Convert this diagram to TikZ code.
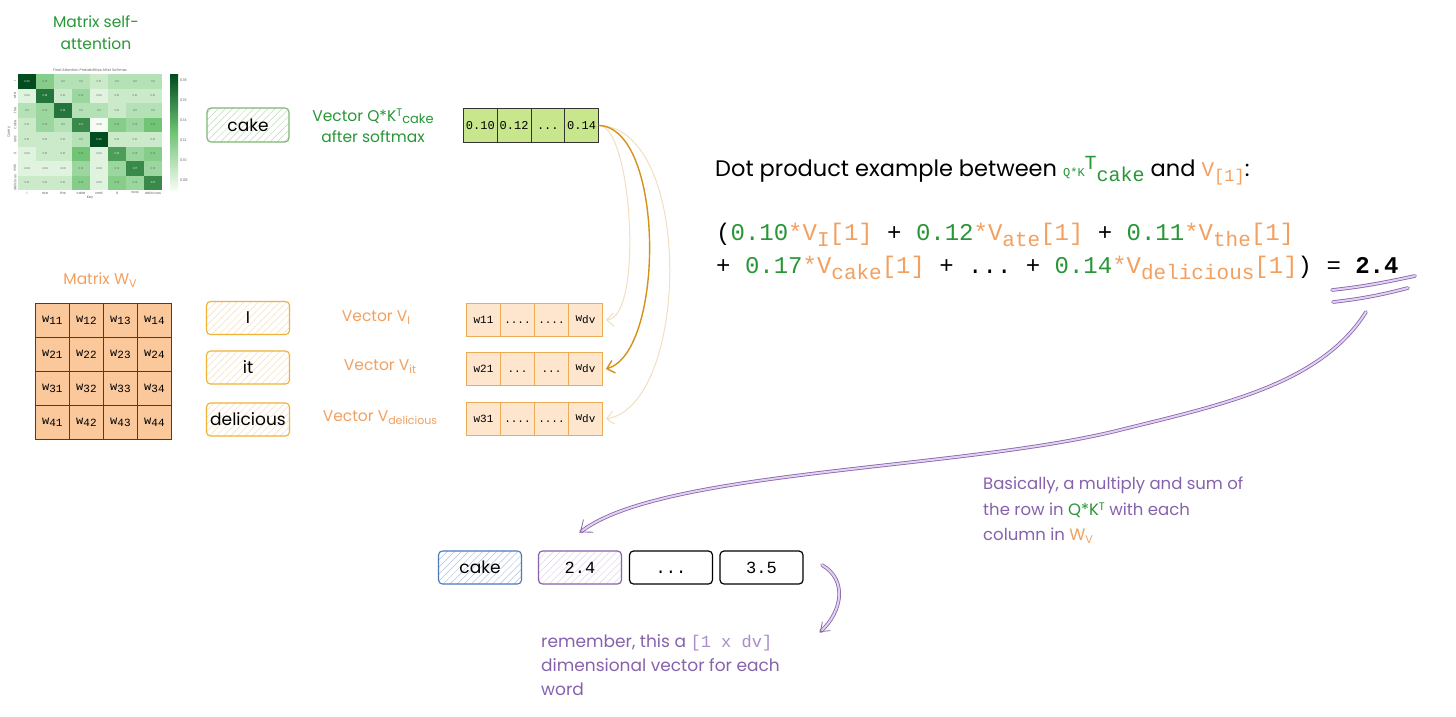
\documentclass[tikz,border=0pt]{standalone}
\usepackage{fontspec}
\setmainfont{Poppins}
\setmonofont{Liberation Mono}
\usetikzlibrary{arrows.meta,patterns.meta}
\definecolor{gtxt}{RGB}{40,150,55}
\definecolor{otxt}{RGB}{243,160,95}
\definecolor{ptxt}{RGB}{135,98,172}
\definecolor{plight}{RGB}{170,140,200}
\definecolor{pfill}{RGB}{225,210,240}
\definecolor{mfill}{RGB}{250,200,155}
\definecolor{vfill}{RGB}{253,230,205}
\definecolor{vstroke}{RGB}{236,172,85}
\definecolor{ostroke}{RGB}{238,178,55}
\definecolor{ohatch}{RGB}{248,222,185}
\definecolor{gfill}{RGB}{200,230,140}
\definecolor{gstroke}{RGB}{125,182,115}
\definecolor{ghatch}{RGB}{190,220,180}
\definecolor{bstroke}{RGB}{75,120,190}
\definecolor{bhatch}{RGB}{175,195,225}
\definecolor{arrdark}{RGB}{214,145,25}
\definecolor{arrlight}{RGB}{243,222,192}
\definecolor{hmdark}{RGB}{0,75,30}
\definecolor{hmmid}{RGB}{110,195,115}
\definecolor{hmlight}{RGB}{245,252,243}
\newcommand\sz[2]{\fontsize{#1}{#2}\selectfont}
\newcommand\lo[3]{\raisebox{-#1}{\fontsize{#2}{#2}\selectfont #3}}
\newcommand\hi[3]{\raisebox{#1}{\fontsize{#2}{#2}\selectfont #3}}
\newcommand\term[3]{{\color{gtxt}#1}{\color{otxt}*V\lo{6pt}{21}{#2}[1]}}
\newcommand\dthree{\vphantom{0}...}
\newcommand\dfour{\vphantom{0}....}
\begin{document}
\begin{tikzpicture}[x=1pt,y=-1pt,
  every node/.style={inner sep=0pt},
  mcell/.style={draw=black!75, fill=mfill, line width=0.8pt, minimum width=34pt, minimum height=34pt, anchor=north west, font=\ttfamily\sz{12}{12}},
  vcell/.style={draw=vstroke, fill=vfill, line width=0.9pt, minimum width=34pt, minimum height=33pt, anchor=north west, font=\ttfamily\sz{11}{11}},
  gcell/.style={draw=black!80, fill=gfill, line width=0.9pt, minimum width=33.75pt, minimum height=34pt, anchor=north west, font=\ttfamily\sz{12}{12}},
  hatchbox/.style={line width=1.1pt, rounded corners=4pt, minimum width=83pt, minimum height=33pt, font=\sz{17}{17}},
  wbox/.style={hatchbox, draw=ostroke, pattern={Lines[angle=45,distance=5pt,line width=0.5pt]}, pattern color=ohatch},
  plainbox/.style={hatchbox, draw=black, line width=1.2pt, font=\ttfamily\sz{17}{17}},
  olbl/.style={text=otxt, font=\sz{15.5}{15.5}},
  oarr/.style={-{Straight Barb[length=7pt,width=13pt]}, line width=1pt},
  parr/.style={draw=ptxt, line width=0.8pt, double=pfill, double distance=2pt, line cap=round},
  hmtxt/.style={font=\sz{2.6}{3}},
  hmlbl/.style={font=\sz{3.6}{4}, text=black!60}]
\useasboundingbox (0,0) rectangle (1456,716);
\fill[white] (0,0) rectangle (1456,716);

% ---------- heatmap ----------
\node[text=gtxt, font=\sz{15.5}{22}, align=center] (mattitle) at (96,33) {Matrix self-\\attention};
\node[hmlbl] (hmtitle) at (90,70) {Final Attention Probabilities After Softmax};
\foreach \vals [count=\r from 0] in {
  {0.20,0.13,0.11,0.11,0.10,0.11,0.11,0.11},
  {0.09,0.18,0.10,0.12,0.09,0.10,0.10,0.10},
  {0.11,0.12,0.18,0.11,0.11,0.10,0.11,0.11},
  {0.10,0.12,0.11,0.17,0.08,0.13,0.12,0.14},
  {0.10,0.10,0.10,0.11,0.20,0.10,0.10,0.10},
  {0.09,0.10,0.10,0.14,0.09,0.16,0.12,0.13},
  {0.09,0.09,0.09,0.12,0.09,0.12,0.17,0.12},
  {0.10,0.10,0.10,0.13,0.09,0.13,0.12,0.17}} {
  \foreach \v [count=\c from 0] in \vals {
    \pgfmathtruncatemacro\t{max(0,min(100,(\v-0.08)*100/0.12))}
    \ifnum\t<50
      \pgfmathtruncatemacro\u{2*\t}\def\hc{hmmid!\u!hmlight}
    \else
      \pgfmathtruncatemacro\u{2*\t-100}\def\hc{hmdark!\u!hmmid}
    \fi
    \ifnum\t>55 \def\tc{white}\else\def\tc{black!65}\fi
    \node[hmtxt, fill=\hc, minimum width=18pt, minimum height=14.5pt, text=\tc] (hm\r-\c) at (27+\c*18, 81.25+\r*14.5) {\v};
  }
}
\foreach \w [count=\i from 0] in {I,ate,the,cake,and,it,was,delicious} {
  \node[hmlbl, rotate=90] (hmr\i) at (15,81.25+\i*14.5) {\w};
  \node[hmlbl] (hmc\i) at (27+\i*18,193) {\w};
}
\node[hmlbl, rotate=90] (hmq) at (9,132) {Query};
\node[hmlbl] (hmk) at (90,198) {Key};
\shade[top color=hmdark, bottom color=hmlight, middle color=hmmid] (170,74) rectangle (178,190);
\foreach \lab [count=\i from 0] in {0.18,0.16,0.14,0.12,0.10,0.08} {
  \node[hmlbl, anchor=west] (cb\i) at (180,80+\i*20) {\lab};
}

% ---------- cake + Q*K^T vector ----------
\node[hatchbox, draw=gstroke, pattern={Lines[angle=45,distance=5pt,line width=0.5pt]}, pattern color=ghatch, minimum width=82pt, minimum height=34pt] (cake) at (248,125) {cake};
\node[text=gtxt, font=\sz{15.5}{21}, align=center] (qklbl) at (373,126) {Vector Q*K\hi{5pt}{11}{T}\lo{2pt}{13}{cake}\\after softmax};
\foreach \t [count=\i] in {0.10,0.12,\dthree,0.14} {
  \node[gcell] (g\i) at (463+\i*33.75-33.75,108) {\t};
}

% ---------- W_V matrix ----------
\node[olbl] (wvlbl) at (100,280) {Matrix W\lo{3pt}{11}{V}};
\foreach \r in {1,2,3,4} {
  \foreach \c in {1,2,3,4} {
    \node[mcell] (m\r\c) at (35+\c*34-34, 303+\r*34-34) {w\lo{2.5pt}{11}{\r\c}};
  }
}

% ---------- word boxes ----------
\node[wbox] (wI) at (248,318) {I};
\node[wbox] (wit) at (248,367.5) {it};
\node[wbox] (wdel) at (248,419.5) {delicious};

\node[olbl] (lI) at (376,318) {Vector V\lo{3pt}{11}{I}};
\node[olbl] (lit) at (380,367) {Vector V\lo{3pt}{11}{it}};
\node[olbl] (ldel) at (380,418) {Vector V\lo{3pt}{11}{delicious}};

\foreach \t [count=\i] in {w11,\dfour,\dfour,w\lo{2pt}{11}{dv}} {
  \node[vcell] (va\i) at (466+\i*34-34,303) {\t};
}
\foreach \t [count=\i] in {w21,\dthree,\dthree,w\lo{2pt}{11}{dv}} {
  \node[vcell] (vb\i) at (466+\i*34-34,352) {\t};
}
\foreach \t [count=\i] in {w31,\dfour,\dfour,w\lo{2pt}{11}{dv}} {
  \node[vcell] (vc\i) at (466+\i*34-34,402) {\t};
}

% ---------- orange arrows ----------
\draw[oarr, draw=arrlight] (g4.east) .. controls (632,125) and (644,318) .. ([xshift=3pt]va4.east);
\draw[oarr, draw=arrlight] (g4.east) .. controls (694,128) and (690,405) .. ([xshift=3pt]vc4.east);
\draw[oarr, draw=arrdark, line width=1.4pt] (g4.east) .. controls (665,128) and (665,352) .. ([xshift=3pt]vb4.east);

% ---------- dot product text ----------
\node[anchor=base west, font=\sz{22.5}{26}] (dot) at (715,176) {Dot product example between {\color{gtxt}\ttfamily\sz{12}{12}Q*K\hi{7pt}{20}{T}\lo{5pt}{20}{cake}} and {\color{otxt}\ttfamily\sz{21}{21}V\lo{5pt}{17}{[1]}}:};
\node[anchor=base west, font=\ttfamily\sz{24}{24}] (eq1) at (716,240) {(\term{0.10}{I}{} + \term{0.12}{ate}{} + \term{0.11}{the}{}};
\node[anchor=base west, font=\ttfamily\sz{24}{24}] (eq2) at (716,273) {+ \term{0.17}{cake}{} + \dthree{} + \term{0.14}{delicious}{}) = \textbf{2.4}};

% ---------- purple scribbles and arrow ----------
\draw[parr] (1332,290) .. controls (1370,286) and (1395,280) .. (1415,276);
\draw[parr] (1333,302) .. controls (1370,298) and (1392,292) .. (1408,288);
\coordinate (pstart) at (1366,312);
\node[plainbox, draw=ptxt, pattern={Lines[angle=45,distance=5pt,line width=0.5pt]}, pattern color=pfill] (b1) at (580,567.5) {2.4};
\draw[parr, -{Straight Barb[length=10pt,width=16pt]}] (pstart) .. controls (1320,385) and (1220,405) .. (1120,430) .. controls (960,470) and (660,470) .. ([yshift=18pt]b1.north);

\node[anchor=north west, align=left, text=ptxt, font=\sz{16.5}{25.5}] (basic) at (983,477) {Basically, a multiply and sum of\\the row in {\color{gtxt}Q*K\hi{5pt}{11}{T}} with each\\column in {\color{otxt}W\lo{3pt}{11}{V}}};

% ---------- bottom row ----------
\node[hatchbox, draw=bstroke, pattern={Lines[angle=45,distance=5pt,line width=0.5pt]}, pattern color=bhatch] (bc) at (480,567.5) {cake};
\node[plainbox] (b2) at (671,567.5) {\dthree};
\node[plainbox] (b3) at (761.5,567.5) {3.5};
\coordinate (sstart) at (822,565);
\coordinate (send) at (820,632);
\draw[parr, -{Straight Barb[length=8pt,width=12pt]}] (sstart) .. controls (848,580) and (842,612) .. (send);

\node[anchor=north west, align=left, text=ptxt, font=\sz{17}{24}] (remember) at (541,634) {remember, this a {\ttfamily\color{plight}[1 x dv]}\\dimensional vector for each\\word};
\end{tikzpicture}
\end{document}
